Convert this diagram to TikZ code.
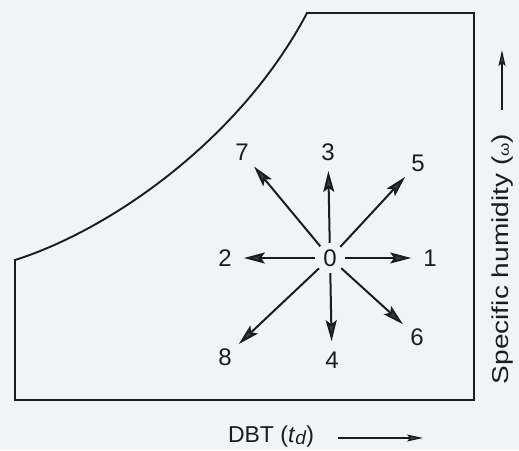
\documentclass[tikz,border=0pt]{standalone}
\usepackage{fontspec}
\setmainfont{Liberation Sans}
\usetikzlibrary{arrows.meta}
\definecolor{bg}{RGB}{240,243,248}
\definecolor{ink}{RGB}{28,28,28}
\definecolor{headc}{RGB}{60,60,60}
\begin{document}
\begin{tikzpicture}[x=1pt,y=-1pt,
  lab/.style={font=\fontsize{24}{24}\selectfont, text=ink, circle, inner sep=0pt, minimum size=20pt},
  ctr/.style={font=\fontsize{24}{24}\selectfont, text=ink, circle, inner sep=0pt, minimum size=30pt},
  arr/.style={draw=ink, line width=2pt, -{Stealth[length=21pt,width=11pt,inset=4pt,fill=headc]}, shorten >=8pt},
  axarr/.style={draw=ink, line width=1.2pt, -{Stealth[length=16pt,width=7pt,inset=3pt,fill=headc]}},
  frame/.style={draw=ink, line width=1.9pt, line join=miter},
  axlab/.style={font=\fontsize{23}{23}\selectfont, text=ink, inner sep=0pt}]
\fill[bg] (0,0) rectangle (519,450);
\useasboundingbox (0,0) rectangle (519,450);
% outline of the chart
\draw[frame] (15,260) -- (15,400) -- (474,400) -- (474,13) -- (307,13)
  .. controls (240,140) and (110,230) .. (15,260) -- cycle;
% centre and labels
\node[ctr] (o) at (330,258) {0};
\node[lab] (l1) at (430,258) {1};
\node[lab] (l2) at (225,258) {2};
\node[lab] (l3) at (328,152) {3};
\node[lab] (l4) at (332,360) {4};
\node[lab] (l5) at (418,163) {5};
\node[lab] (l6) at (417,337) {6};
\node[lab] (l7) at (242,152) {7};
\node[lab] (l8) at (225,357) {8};
\foreach \i in {1,...,8} {\draw[arr] (o) -- (l\i);}
% axis labels
\node[axlab] (dbt) at (271,437) {DBT (\textit{t}\raisebox{-2pt}{\fontsize{19}{19}\selectfont\textit{d}})};
\coordinate (xa) at (338,438);
\coordinate (xb) at (423,438);
\draw[axarr] (xa) -- (xb);
\node[axlab, rotate=90] (sh) at (503,259) {\scalebox{1.22}[1]{Specific humidity ({\fontsize{14}{14}\selectfont ω})}};
\coordinate (ya) at (502,110);
\coordinate (yb) at (502,50);
\draw[axarr] (ya) -- (yb);
\end{tikzpicture}
\end{document}
